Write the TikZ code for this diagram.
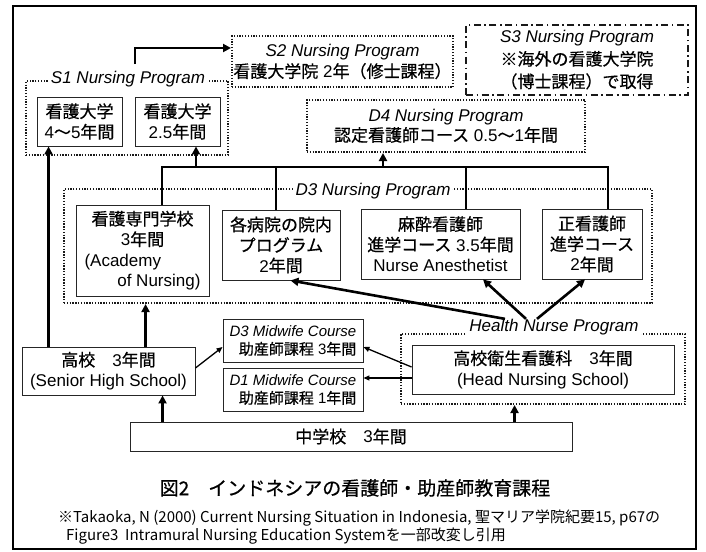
\documentclass[tikz,border=0pt]{standalone}
\usepackage{fontspec}
\usepackage{graphicx}
\setmainfont{Liberation Sans}
\newfontfamily\jp[FakeBold=0.6]{Noto Sans CJK JP}
\newfontfamily\jpsrc{Noto Sans CJK JP}
\usetikzlibrary{arrows.meta}
\begin{document}
\begin{tikzpicture}[x=1pt,y=-1pt,
  box/.style={draw=black!85,line width=0.9pt,fill=white,align=center,inner sep=0pt,font=\fontsize{17}{20.5}\selectfont},
  dotbox/.style={draw=black!90,line width=2pt,dash pattern=on 1.3pt off 1.5pt,align=center,inner sep=0pt,font=\fontsize{17}{21.5}\selectfont},
  dashdotbox/.style={draw=black!90,line width=2pt,dash pattern=on 7pt off 3.5pt on 1.6pt off 3.5pt,align=center,inner sep=0pt,font=\fontsize{17}{22.5}\selectfont},
  lab/.style={fill=white,inner sep=2pt,font=\fontsize{17}{20}\selectfont\itshape},
  arr/.style={line width=2.6pt,-{Triangle[length=8pt,width=8pt]}},
  bus/.style={line width=2.6pt},
  thinarr/.style={line width=1.3pt,-{Triangle[length=6pt,width=5pt]}},
  mid/.style={box,align=right,font=\fontsize{15}{18.5}\selectfont}
]
\useasboundingbox (0,0) rectangle (706,551);
\draw[line width=1.8pt] (13,6) rectangle (696,549);

% containers
\node[dotbox,minimum width=202,minimum height=74] (s1c) at (127,118) {};
\node[dotbox,minimum width=588,minimum height=114] (d3c) at (358,246) {};
\node[dotbox,minimum width=284,minimum height=70] (hnc) at (543,369) {};

% S2, S3, D4
\node[dotbox,minimum width=221,minimum height=51] (s2) at (342.5,61.5)
  {{\itshape S2 Nursing Program}\\{\jp 看護大学院} 2{\jp 年（修士課程）}};
\node[dashdotbox,minimum width=222,minimum height=70] (s3) at (577,60)
  {{\itshape S3 Nursing Program}\\{\jp ※海外の看護大学院}\\{\jp （博士課程）で取得}};
\node[dotbox,minimum width=278,minimum height=52,font=\fontsize{17}{20}\selectfont] (d4) at (446,126)
  {{\itshape D4 Nursing Program}\\{\jp 認定看護師コース} 0.5{\jp 〜}1{\jp 年間}};

% S1 boxes
\node[box,minimum width=85,minimum height=49] (s1a) at (79.5,121.5) {{\jp 看護大学}\\4{\jp 〜}5{\jp 年間}};
\node[box,minimum width=85,minimum height=49] (s1b) at (177.5,121.5) {{\jp 看護大学}\\2.5{\jp 年間}};

% D3 boxes
\node[box,minimum width=133,minimum height=91] (a) at (142.5,250.5)
  {{\jp 看護専門学校}\\3{\jp 年間}\\\makebox[116pt][l]{(Academy}\\\makebox[116pt][r]{of Nursing)}};
\node[box,minimum width=118,minimum height=70] (b) at (281,245)
  {{\jp 各病院の院内}\\{\jp プログラム}\\2{\jp 年間}};
\node[box,minimum width=159,minimum height=70] (c) at (440.5,244)
  {{\jp 麻酔看護師}\\{\jp 進学コース} 3.5{\jp 年間}\\Nurse Anesthetist};
\node[box,minimum width=100,minimum height=70] (d) at (592,244)
  {{\jp 正看護師}\\{\jp 進学コース}\\2{\jp 年間}};

% lower boxes
\node[box,minimum width=262,minimum height=49] (hn) at (543,369.5)
  {{\jp 高校衛生看護科}\quad 3{\jp 年間}\\(Head Nursing School)};
\node[box,minimum width=173,minimum height=48] (hs) at (108.5,371)
  {{\jp 高校}\quad 3{\jp 年間}\\(Senior High School)};
\node[mid,minimum width=140,minimum height=43] (m3) at (293,340.5)
  {{\itshape D3 Midwife Course}\\{\jp 助産師課程} 3{\jp 年間}};
\node[mid,minimum width=140,minimum height=43] (m1) at (293,389.5)
  {{\itshape D1 Midwife Course}\\{\jp 助産師課程} 1{\jp 年間}};
\node[box,minimum width=442,minimum height=29] (jh) at (351,436.5)
  {{\jp 中学校}\quad 3{\jp 年間}};

% container labels
\node[lab] (s1lab) at (128,79) {S1 Nursing Program};
\node[lab] (d3lab) at (373,191) {D3 Nursing Program};
\node[lab] (hnlab) at (554,327) {Health Nurse Program};

% bus and connectors
\coordinate (busL) at (162,167);
\coordinate (busR) at (608,167);
\draw[bus] (a.north -| busL) -- (busL) -- (busR) -- (d.north -| busR);
\coordinate (busB) at (276,167);
\draw[bus] (busB) -- (b.north -| busB);
\coordinate (busC) at (466,167);
\draw[bus] (busC) -- (c.north -| busC);
\coordinate (upS1) at (196,167);
\draw[arr] (upS1) -- (upS1 |- s1b.south);
\coordinate (upD4) at (383,167);
\draw[arr] (upD4) -- (upD4 |- d4.south);

\coordinate (s1up) at (135,64);
\draw[arr] (s1up) |- ([yshift=13.5pt]s2.west);

\coordinate (hsA) at ([xshift=27pt]hs.north west);
\draw[arr] (hsA) -- (hsA |- s1a.south);
\coordinate (hsB) at ([xshift=124pt]hs.north west);
\draw[arr] (hsB) -- (hsB |- d3c.south);
\coordinate (jhA) at ([xshift=33pt]jh.north west);
\draw[arr] (jhA) -- (jhA |- hs.south);
\coordinate (jhB) at ([xshift=385pt]jh.north west);
\draw[arr] (jhB) -- (jhB |- hnc.south);

\draw[arr] ([xshift=-28pt,yshift=-2pt]hnlab.north) -- ([xshift=42.5pt]c.south);
\draw[arr] ([xshift=-17pt,yshift=-2pt]hnlab.north) -- ([xshift=-7pt]d.south);
\draw[arr] ([xshift=-49pt,yshift=-2pt]hnlab.north) -- ([xshift=-50pt]b.south east);

\draw[thinarr] ([yshift=3pt]hs.east) -- ([yshift=-6.5pt]m3.west);
\draw[thinarr] ([yshift=2.5pt]hn.west) -- ([yshift=-6.5pt]m3.east);
\coordinate (hnw) at ([yshift=-8.5pt]hn.west);
\draw[thinarr] (hnw) -- (hnw -| m1.east);

% caption and source
\node[font=\jp\fontsize{19}{22}\selectfont] (cap) at (355,488) {図2\quad インドネシアの看護師・助産師教育課程};
\node[anchor=west,inner sep=0pt,font=\jpsrc\fontsize{15}{17}\selectfont] (src1) at (58,518)
  {※Takaoka, N (2000) Current Nursing Situation in Indonesia, 聖マリア学院紀要15, p67の};
\node[anchor=west,inner sep=0pt,font=\jpsrc\fontsize{15}{17}\selectfont] (src2) at (66,536)
  {Figure3\ \ Intramural Nursing Education Systemを一部改変し引用};
\end{tikzpicture}
\end{document}
